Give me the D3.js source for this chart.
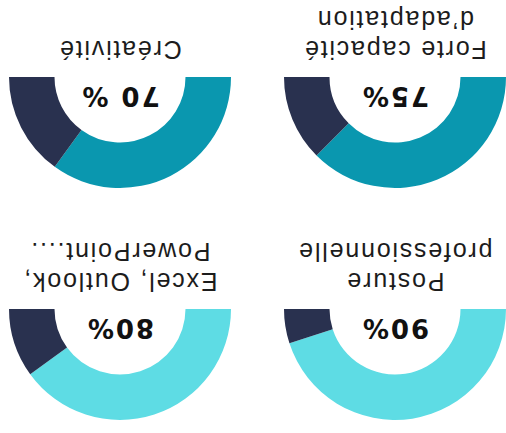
<!DOCTYPE html>
<html>
<head>
<meta charset="utf-8">
<script src="https://cdn.jsdelivr.net/npm/d3@7"></script>
<style>
  html, body { margin: 0; padding: 0; background: #fff; }
  svg { display: block; }
</style>
</head>
<body>
<svg width="506" height="433"></svg>
<script>
const svg = d3.select("svg");
const width = +svg.attr("width");
const height = +svg.attr("height");

// data
const labels = [
  ["Posture", "professionnelle"],
  ["Excel, Outlook,", "PowerPoint...."],
  ["Forte capacité", "d’adaptation"],
  ["Créativité"],
];
const values = [90, 80, 75, 70];
const valueLabels = ["90%", "80%", "75%", "70 %"];

const fillColors = ["#5edce4", "#5edce4", "#0a97af", "#0a97af"];
const restColor = "#29314f";

const outerR = 111;
const innerR = 65.5;

// the whole picture is shown upside down
const g = svg
  .append("g")
  .attr("transform", `rotate(180, ${width / 2}, ${height / 2})`);

const xScale = d3.scaleLinear().domain([0, 1]).range([111, 386]);
const yScale = d3.scaleLinear().domain([0, 1]).range([124, 356]);
const angle = d3.scaleLinear().domain([0, 100]).range([-Math.PI / 2, Math.PI / 2]);

const arc = d3.arc().innerRadius(innerR).outerRadius(outerR);

const gauges = g
  .selectAll("g.gauge")
  .data(values)
  .enter()
  .append("g")
  .attr("class", "gauge")
  .attr("transform", (d, i) => `translate(${xScale(i % 2)},${yScale(Math.floor(i / 2))})`);

gauges
  .append("path")
  .attr("d", (d) => arc({ startAngle: angle(0), endAngle: angle(d) }))
  .attr("fill", (d, i) => fillColors[i]);

gauges
  .append("path")
  .attr("d", (d) => arc({ startAngle: angle(d), endAngle: angle(100) }))
  .attr("fill", restColor);

gauges
  .append("text")
  .attr("y", -10)
  .attr("text-anchor", "middle")
  .attr("font-family", "DejaVu Sans")
  .attr("font-weight", "bold")
  .attr("font-size", 26)
  .attr("letter-spacing", 2)
  .attr("fill", "#111")
  .text((d, i) => valueLabels[i]);

gauges
  .append("text")
  .attr("text-anchor", "middle")
  .attr("font-family", "'Liberation Sans', Arial, sans-serif")
  .attr("font-size", 25)
  .attr("letter-spacing", 1.8)
  .attr("fill", "#1c1c1c")
  .selectAll("tspan")
  .data((d, i) => labels[i])
  .enter()
  .append("tspan")
  .attr("x", 0)
  .attr("y", (d, j) => 36 + j * 30)
  .text((d) => d);
</script>
</body>
</html>
